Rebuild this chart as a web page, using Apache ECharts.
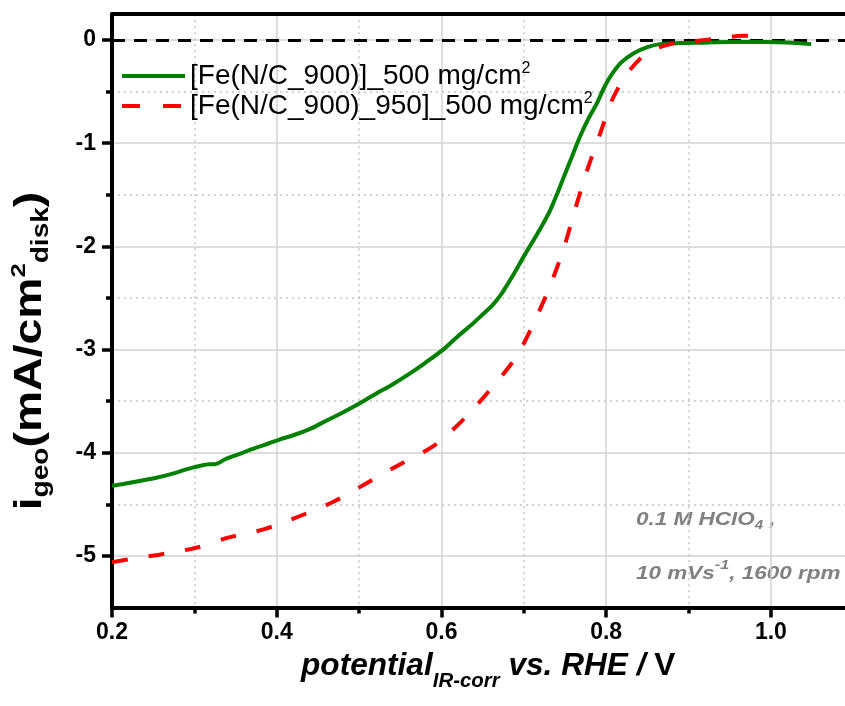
<!DOCTYPE html>
<html><head><meta charset="utf-8">
<script src="https://cdn.jsdelivr.net/npm/echarts@6/dist/echarts.min.js"></script>
<style>html,body{margin:0;padding:0;background:#fff}#c{width:845px;height:706px}</style>
</head><body><div id="c"></div>
<script>
// ---- data ----
const seriesNames = ['[Fe(N/C_900)]_500 mg/cm²', '[Fe(N/C_900)_950]_500 mg/cm²'];
const greenX = [0.200,0.215,0.235,0.255,0.275,0.290,0.305,0.318,0.325,0.338,0.355,0.375,0.390,0.404,0.420,0.440,0.455,0.470,0.487,0.503,0.520,0.540,0.560,0.580,0.602,0.620,0.635,0.650,0.662,0.672,0.680,0.687,0.702,0.717,0.732,0.742,0.752,0.760,0.768,0.778,0.789,0.797,0.805,0.818,0.833,0.850,0.865,0.890,0.914,0.950,0.995,1.020,1.049];
const greenY = [-4.32,-4.30,-4.27,-4.24,-4.20,-4.16,-4.13,-4.11,-4.11,-4.06,-4.01,-3.95,-3.91,-3.87,-3.83,-3.77,-3.71,-3.65,-3.58,-3.51,-3.43,-3.34,-3.24,-3.13,-3.00,-2.87,-2.77,-2.66,-2.57,-2.47,-2.37,-2.28,-2.07,-1.87,-1.65,-1.46,-1.26,-1.10,-0.94,-0.77,-0.61,-0.47,-0.355,-0.22,-0.13,-0.07,-0.04,-0.03,-0.026,-0.02,-0.02,-0.025,-0.04];
const redX = [0.200,0.230,0.259,0.302,0.342,0.385,0.429,0.470,0.510,0.550,0.591,0.625,0.659,0.690,0.708,0.730,0.748,0.762,0.777,0.793,0.809,0.829,0.849,0.869,0.890,0.914,0.940,0.966,0.975];
const redY = [-5.06,-5.02,-4.985,-4.92,-4.82,-4.74,-4.61,-4.47,-4.29,-4.11,-3.93,-3.69,-3.39,-3.08,-2.81,-2.42,-2.03,-1.65,-1.26,-0.90,-0.55,-0.29,-0.13,-0.06,-0.02,-0.005,0.02,0.04,0.04];
const xMajorTicks = [0.2,0.4,0.6,0.8,1.0];
const xMinorTicks = [0.3,0.5,0.7,0.9];
const yMajorTicks = [-5,-4,-3,-2,-1,0];
const yMinorTicks = [-4.5,-3.5,-2.5,-1.5,-0.5];
const xRange = [0.2, 1.09];
const yRange = [-5.5, 0.25];
const referenceLevel = 0;
const xTitleParts = ['potential', 'IR-corr', ' vs. RHE /', ' V'];
const yTitleParts = ['i', 'geo', '(mA/cm', '2', 'disk', ')'];
const noteLine1 = ['0.1 M HClO', '4', ' ,'];
const noteLine2 = ['10 mVs', '-1', ', 1600 rpm'];

// ---- chart ----
const FONT = '"Liberation Sans", Arial, Helvetica, sans-serif';
const zip = (xs, ys) => xs.map((x, i) => [x, ys[i]]);
const chart = echarts.init(document.getElementById('c'), null, {renderer: 'canvas'});

const majorGrid = {show: true, lineStyle: {color: '#d2d2d2', width: 1.5, type: 'solid'}};
const minorGrid = {show: true, lineStyle: {color: '#c4c4c4', width: 1.5, type: [2, 4]}};
const labelStyle = {fontSize: 23, fontWeight: 'bold', color: '#000', fontFamily: FONT};

function tok(size, extra) {
  return Object.assign({fontSize: size, fontWeight: 'bold', fontFamily: FONT, fill: '#000'}, extra || {});
}

const option = {
  animation: false,
  backgroundColor: '#fff',
  grid: {left: 112, right: 0, top: 14.2, bottom: 98.4, containLabel: false, outerBoundsMode: 'none'},
  legend: {
    orient: 'vertical', left: 120, top: 61, padding: 0, itemGap: 0,
    itemWidth: 63, itemHeight: 14,
    itemStyle: {color: 'rgba(0,0,0,0)', borderWidth: 0, opacity: 0},
    lineStyle: {width: 4},
    data: [
      {name: seriesNames[0]},
      {name: seriesNames[1], lineStyle: {width: 4, type: [18, 23]}}
    ],
    formatter: n => n.replace('²', '{sup|2}'),
    textStyle: {
      fontSize: 28, fontFamily: FONT, color: '#000', lineHeight: 30,
      rich: {sup: {fontSize: 16, fontFamily: FONT, color: '#000', lineHeight: 20, verticalAlign: 'top'}}
    }
  },
  xAxis: [
    { // minor
      type: 'value', min: xRange[0], max: xRange[1], interval: 0.1, position: 'bottom',
      axisLine: {show: false, onZero: false},
      axisTick: {show: true, length: 6, customValues: xMinorTicks, lineStyle: {color: '#000', width: 3.5}},
      axisLabel: {show: false},
      splitLine: minorGrid
    },
    { // major
      type: 'value', min: xRange[0], max: xRange[1], interval: 0.2, position: 'bottom',
      axisLine: {show: true, onZero: false, lineStyle: {color: '#000', width: 4}},
      axisTick: {show: true, length: 10, customValues: xMajorTicks, lineStyle: {color: '#000', width: 3.5}},
      axisLabel: Object.assign({show: true, margin: 14, customValues: xMajorTicks,
        formatter: v => Number(v).toFixed(1)}, labelStyle),
      splitLine: majorGrid
    },
    { // top frame
      type: 'value', min: xRange[0], max: xRange[1], position: 'top',
      axisLine: {show: true, onZero: false, lineStyle: {color: '#000', width: 4}},
      axisTick: {show: false}, axisLabel: {show: false}, splitLine: {show: false}
    }
  ],
  yAxis: [
    { // minor
      type: 'value', min: yRange[0], max: yRange[1], interval: 0.5, position: 'left',
      axisLine: {show: false, onZero: false},
      axisTick: {show: true, length: 6, customValues: yMinorTicks, lineStyle: {color: '#000', width: 3.5}},
      axisLabel: {show: false},
      splitLine: minorGrid
    },
    { // major
      type: 'value', min: yRange[0], max: yRange[1], minInterval: 1, maxInterval: 1, splitNumber: 5, position: 'left',
      axisLine: {show: true, onZero: false, lineStyle: {color: '#000', width: 4}},
      axisTick: {show: true, length: 10, customValues: yMajorTicks, lineStyle: {color: '#000', width: 3.5}},
      axisLabel: Object.assign({show: true, margin: 16, customValues: yMajorTicks,
        formatter: v => String(Math.round(v))}, labelStyle),
      splitLine: majorGrid
    }
  ],
  series: [
    {
      name: seriesNames[0], type: 'line', xAxisIndex: 1, yAxisIndex: 1,
      data: zip(greenX, greenY), symbol: 'none', z: 6, smooth: 0.3,
      lineStyle: {color: '#008000', width: 4}, itemStyle: {color: '#008000'},
      markLine: {
        silent: true, z: 3, symbol: ['none', 'none'], label: {show: false},
        lineStyle: {color: '#000', width: 3, type: [13, 9]},
        emphasis: {disabled: true},
        data: [{yAxis: referenceLevel}]
      }
    },
    {
      name: seriesNames[1], type: 'line', xAxisIndex: 1, yAxisIndex: 1,
      data: zip(redX, redY), symbol: 'none', z: 7, smooth: 0.3,
      lineStyle: {color: '#ff0000', width: 4, type: [16, 21]}, itemStyle: {color: '#ff0000'}
    }
  ],
  graphic: [
    { // y title
      type: 'text', x: 31, y: 351, rotation: Math.PI / 2, scaleX: 1.22, scaleY: 1, silent: true,
      style: {
        text: `{m|${yTitleParts[0]}}{sub|${yTitleParts[1]}}{m|${yTitleParts[2]}}{sup|${yTitleParts[3]}}{sub|${yTitleParts[4]}}{m|${yTitleParts[5]}}`,
        align: 'center', verticalAlign: 'middle',
        fontSize: 38, fontWeight: 'bold', fontFamily: FONT, fill: '#000',
        rich: {
          m: tok(38, {lineHeight: 44}),
          sub: tok(23, {lineHeight: 28, verticalAlign: 'bottom'}),
          sup: tok(21, {lineHeight: 32, verticalAlign: 'top'})
        }
      }
    },
    { // x title
      type: 'text', x: 301, y: 666, scaleX: 1.02, silent: true,
      style: {
        text: `{m|${xTitleParts[0]}}{sub|${xTitleParts[1]}}{m|${xTitleParts[2]}}{v|${xTitleParts[3]}}`,
        align: 'left', verticalAlign: 'middle',
        fontSize: 31, fontWeight: 'bold', fontFamily: FONT, fill: '#000',
        rich: {
          m: tok(31, {fontStyle: 'italic', lineHeight: 50}),
          v: tok(31, {lineHeight: 50}),
          sub: tok(20, {fontStyle: 'italic', lineHeight: 20, verticalAlign: 'bottom'})
        }
      }
    },
    { // note line 1
      type: 'text', x: 636, y: 520, scaleX: 1.25, silent: true,
      style: {
        text: `{m|${noteLine1[0]}}{sub|${noteLine1[1]}}{m|${noteLine1[2]}}`,
        align: 'left', verticalAlign: 'middle',
        fontSize: 18, fontWeight: 'bold', fontStyle: 'italic', fontFamily: FONT, fill: '#808080',
        rich: {
          m: tok(18, {fontStyle: 'italic', fill: '#808080', lineHeight: 24}),
          sub: tok(12, {fontStyle: 'italic', fill: '#808080', lineHeight: 12, verticalAlign: 'bottom'})
        }
      }
    },
    { // note line 2
      type: 'text', x: 636, y: 574, scaleX: 1.25, silent: true,
      style: {
        text: `{m|${noteLine2[0]}}{sup|${noteLine2[1]}}{m|${noteLine2[2]}}`,
        align: 'left', verticalAlign: 'middle',
        fontSize: 18, fontWeight: 'bold', fontStyle: 'italic', fontFamily: FONT, fill: '#808080',
        rich: {
          m: tok(18, {fontStyle: 'italic', fill: '#808080', lineHeight: 30}),
          sup: tok(13, {fontStyle: 'italic', fill: '#808080', lineHeight: 4, verticalAlign: 'top'})
        }
      }
    }
  ]
};
chart.setOption(option);
</script>
</body></html>
